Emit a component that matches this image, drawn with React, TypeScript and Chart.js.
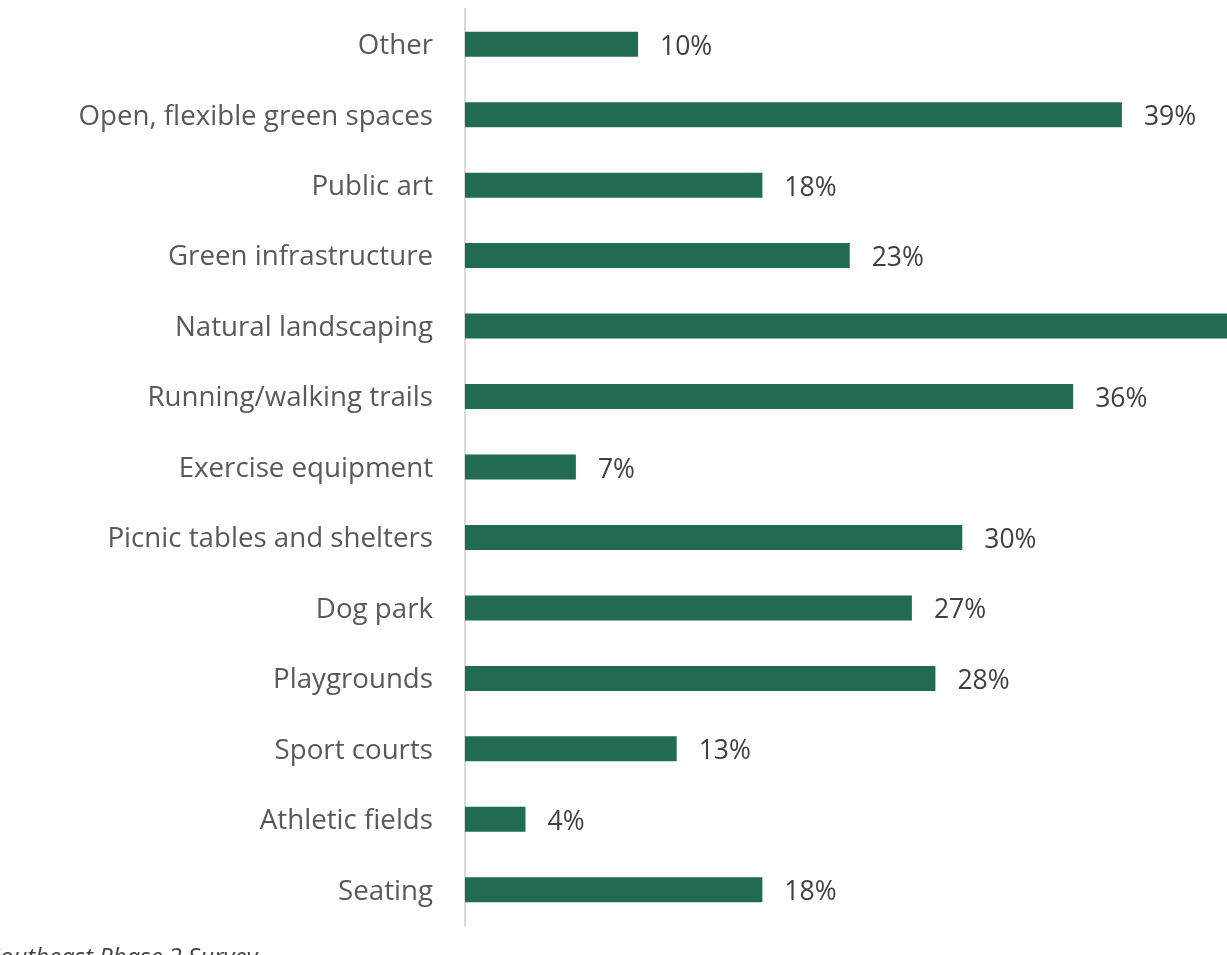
import React, { useEffect, useRef } from "react";
import { Chart, registerables } from "chart.js";

Chart.register(...registerables);

const categories = [
  "Other",
  "Open, flexible green spaces",
  "Public art",
  "Green infrastructure",
  "Natural landscaping",
  "Running/walking trails",
  "Exercise equipment",
  "Picnic tables and shelters",
  "Dog park",
  "Playgrounds",
  "Sport courts",
  "Athletic fields",
  "Seating",
];

const shares = [10.3, 39.1, 17.7, 22.9, 47, 36.2, 6.6, 29.6, 26.6, 28.0, 12.6, 3.6, 17.7];

const valueLabels = ["10%", "39%", "18%", "23%", "47%", "36%", "7%", "30%", "27%", "28%", "13%", "4%", "18%"];

const sourceHidden = "Source: S";
const sourceVisible = "outheast Phase 2 Survey";

const FONT = "'Open Sans', 'Noto Sans', sans-serif";

const valueLabelPlugin = {
  id: "valueLabels",
  afterDatasetsDraw(chart: any) {
    const ctx = chart.ctx;
    const meta = chart.getDatasetMeta(0);
    ctx.save();
    ctx.font = `26.5px ${FONT}`;
    ctx.fillStyle = "#404040";
    ctx.textAlign = "left";
    ctx.textBaseline = "middle";
    meta.data.forEach((bar: any, i: number) => {
      ctx.fillText(valueLabels[i], bar.x + 22, bar.y + 3);
    });
    ctx.restore();
  },
};

export default function App() {
  const canvasRef = useRef<HTMLCanvasElement | null>(null);

  useEffect(() => {
    if (!canvasRef.current) return;
    const chart = new Chart(canvasRef.current, {
      type: "bar",
      data: {
        labels: categories,
        datasets: [
          {
            data: shares,
            backgroundColor: "#216B50",
            borderWidth: 0,
            categoryPercentage: 1,
            barPercentage: 0.355,
          },
        ],
      },
      options: {
        indexAxis: "y",
        animation: false,
        responsive: true,
        maintainAspectRatio: false,
        layout: { padding: { top: 9, bottom: 30, left: 0, right: 95 } },
        plugins: {
          legend: { display: false },
          tooltip: { enabled: false },
        },
        scales: {
          x: {
            display: false,
            min: 0,
            max: 50,
          },
          y: {
            grid: { display: false, drawTicks: true, tickLength: 32 },
            border: { display: true, color: "#D9D9D9", width: 2 },
            ticks: {
              padding: 0,
              labelOffset: 2,
              color: "#595959",
              font: { family: FONT, size: 27.7, lineHeight: 0.5 },
            },
            afterFit: (scale: any) => {
              scale.width = 465;
            },
          },
        },
      },
      plugins: [valueLabelPlugin],
    });
    return () => chart.destroy();
  }, []);

  return (
    <div
      style={{
        position: "fixed",
        left: 0,
        top: 0,
        width: 1227,
        height: 955,
        overflow: "hidden",
        background: "#ffffff",
      }}
    >
      <div style={{ position: "absolute", left: 0, top: 0, width: 1400, height: 955 }}>
        <canvas ref={canvasRef} />
      </div>
      <div
        style={{
          position: "absolute",
          left: 0,
          top: 939,
          fontFamily: FONT,
          fontStyle: "italic",
          fontSize: 24,
          color: "#404040",
          whiteSpace: "nowrap",
        }}
      >
        <span style={{ position: "absolute", right: "100%" }}>{sourceHidden}</span>
        {sourceVisible}
      </div>
    </div>
  );
}
